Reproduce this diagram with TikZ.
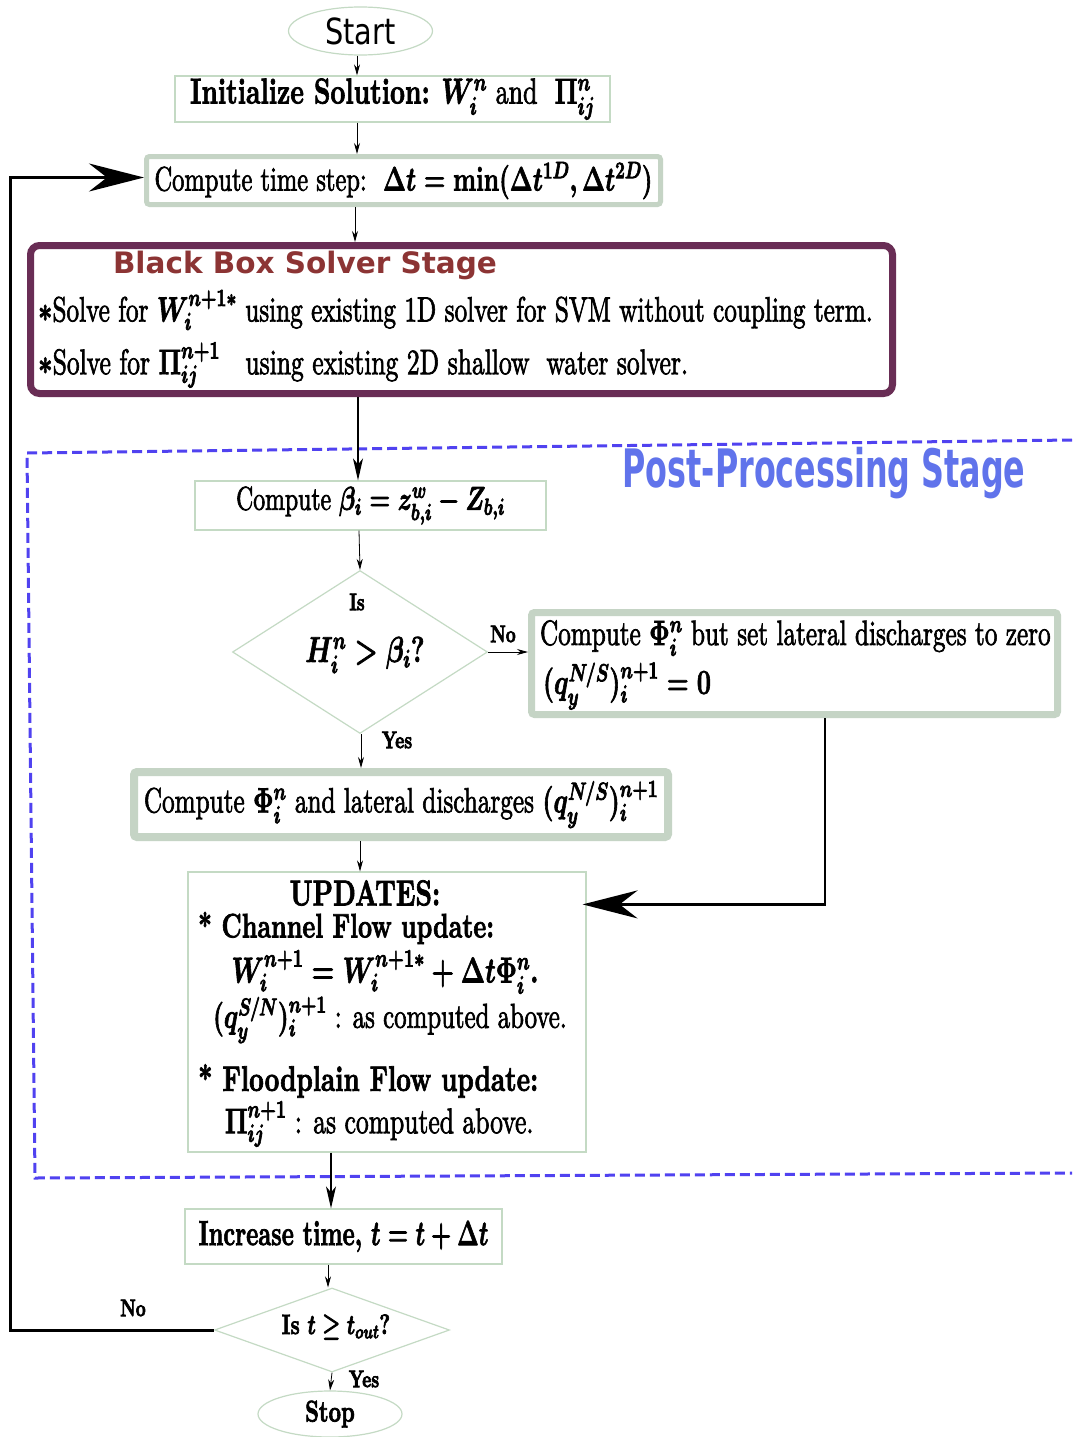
\RequirePackage{fix-cm}
\documentclass[tikz,border=0pt]{standalone}
\usepackage{amsmath}
\usepackage[no-math]{fontspec}
\usepackage{graphicx}
\usetikzlibrary{shapes.geometric,arrows.meta}
\setmainfont{lmroman10-regular.otf}[BoldFont=lmroman10-bold.otf, ItalicFont=lmroman10-italic.otf, BoldItalicFont=lmroman10-bolditalic.otf]
\newfontfamily\djs{DejaVu Sans}
\definecolor{gthin}{RGB}{196,218,196}
\definecolor{gthick}{RGB}{197,212,197}
\definecolor{bbpurple}{RGB}{105,45,85}
\definecolor{bbtitle}{RGB}{140,52,52}
\definecolor{ppblue}{RGB}{96,115,235}
\definecolor{dashblue}{RGB}{80,66,240}
\newcommand{\heavyon}{\special{pdf:literal direct 2 Tr 0.8 w}}
\newcommand{\heavyoff}{\special{pdf:literal direct 0 Tr}}
\newcommand{\cz}[1]{\heavyon\scalebox{0.72}[1]{#1}\heavyoff}
\newcommand{\fsz}[1]{\fontsize{#1}{#1}\selectfont\boldmath}
\begin{document}
\begin{tikzpicture}[x=1pt,y=-1pt,
  txt/.style={inner sep=0pt, outer sep=0pt},
  thinbox/.style={draw=gthin, line width=1.2pt, inner sep=0pt},
  thickbox/.style={draw=gthick, rounded corners=3pt, inner sep=0pt},
  oval/.style={ellipse, draw=gthin, line width=1.2pt, inner sep=0pt},
  dia/.style={diamond, draw=gthin, line width=1.2pt, inner sep=0pt},
  ar/.style={-{Stealth[length=11pt,width=6pt]}, line width=0.8pt},
  armed/.style={-{Stealth[length=22pt,width=10pt,inset=6pt]}, line width=1.4pt},
  big/.style={-{Stealth[length=55pt,width=28pt,inset=18pt]}}
]
\fill[white] (0,0) rectangle (1072,1437);
\useasboundingbox (0,0) rectangle (1072,1437);

% dashed post-processing frame
\draw[dashblue, line width=3pt, dash pattern=on 10pt off 5pt] (1072,440) -- (27,453) -- (35,1178) -- (1072,1173);

% nodes
\node[oval, minimum width=144pt, minimum height=48pt, font=\djs\fontsize{36}{36}\selectfont] (start) at (360.5,31) {\scalebox{0.8}[1]{Start}};

\node[thinbox, minimum width=435pt, minimum height=46pt, font=\fsz{36}] (init) at (392.5,99)
  {\cz{\textbf{Initialize Solution:} $W_i^n$ and\ \ $\Pi_{ij}^n$}};

\node[thickbox, line width=5pt, minimum width=514pt, minimum height=48pt, font=\fsz{34}] (ts) at (403.5,180.5)
  {\cz{Compute time step:\ \ $\Delta t=\min(\Delta t^{1D},\Delta t^{2D})$}};

\node[draw=bbpurple, line width=7pt, rounded corners=9pt, minimum width=862pt, minimum height=148pt, inner sep=0pt] (bb) at (461.5,319.5) {};
\node[txt, anchor=west, font=\djs\bfseries\fontsize{29.5}{30}\selectfont, text=bbtitle] (bbt) at (113,265) {Black Box Solver Stage};
\node[txt, anchor=west, font=\fsz{35}] (bb1) at (38,310)
  {\cz{$\ast$Solve for $W_i^{n+1*}$ using existing 1D solver\ for SVM without coupling term.}};
\node[txt, anchor=west, font=\fsz{35.5}] (bb2) at (38,365)
  {\cz{$\ast$Solve for $\Pi_{ij}^{n+1}$\ \ \ using existing 2D shallow\ \ water solver.}};

\node[txt, font=\djs\bfseries\fontsize{53}{53}\selectfont, text=ppblue] (ppt) at (824,473) {\scalebox{0.6}[1]{Post-Processing Stage}};

\node[thinbox, minimum width=351pt, minimum height=49pt, font=\fsz{33}] (beta) at (370.5,505.5)
  {\cz{Compute $\beta_i = z^w_{b,i} - Z_{b,i}$}};

\node[dia, minimum width=255pt, minimum height=163pt] (d1) at (360,652) {};
\node[txt, font=\bfseries\fontsize{24}{24}\selectfont] (d1a) at (357,602) {\cz{Is}};
\node[txt, font=\fsz{36}] (d1b) at (365,655) {\cz{$H_i^n > \beta_i ?$}};

\node[thickbox, line width=7pt, minimum width=526pt, minimum height=102pt] (nobox) at (794.5,663.5) {};
\node[txt, anchor=west, font=\fsz{35}] (nb1) at (540,638) {\cz{Compute $\Phi_i^n$ but set lateral discharges to zero}};
\node[txt, anchor=west, font=\fsz{35}] (nb2) at (543,686) {\cz{$(q_y^{N/S})_i^{n+1}=0$}};

\node[thickbox, line width=8pt, minimum width=534pt, minimum height=65pt, font=\fsz{35}] (phi) at (401,804.5)
  {\cz{Compute $\Phi_i^n$ and lateral discharges $(q_y^{N/S})_i^{n+1}$}};

\node[thinbox, minimum width=398pt, minimum height=280pt] (upd) at (387,1012) {};
\node[txt, font=\fsz{36}\bfseries] (u1) at (365,893) {\cz{UPDATES:}};
\node[txt, anchor=west, font=\fsz{34}\bfseries] (u2) at (198,928) {\cz{* Channel Flow update:}};
\node[txt, font=\fsz{36}] (u3) at (385,972) {\cz{$W_i^{n+1} = W_i^{n+1*} + \Delta t\Phi_i^n.$}};
\node[txt, anchor=west, font=\fsz{34.5}] (u4) at (213,1020) {\cz{$(q_y^{S/N})_i^{n+1}$ : as computed above.}};
\node[txt, anchor=west, font=\fsz{35.5}\bfseries] (u5) at (198,1081) {\cz{* Floodplain Flow update:}};
\node[txt, anchor=west, font=\fsz{35.5}] (u6) at (225,1124) {\cz{$\Pi_{ij}^{n+1}$\ : as computed above.}};

\node[thinbox, minimum width=317pt, minimum height=55pt, font=\fsz{35}\bfseries] (inc) at (343.5,1236.5)
  {\heavyon\scalebox{0.66}[1]{Increase time, $t=t+\Delta t$}\heavyoff};

\node[dia, minimum width=235pt, minimum height=84pt] (d2) at (332,1330) {};
\node[txt, font=\fsz{28}\bfseries] (d2t) at (336,1327) {\cz{Is $t\geq t_{out}$?}};

\node[oval, minimum width=144pt, minimum height=46pt, font=\bfseries\fontsize{30}{30}\selectfont] (stop) at (330,1414) {\cz{Stop}};

% labels
\node[txt, font=\bfseries\fontsize{24}{24}\selectfont] (lno1) at (503,634) {\cz{No}};
\node[txt, font=\bfseries\fontsize{24}{24}\selectfont] (lyes1) at (397,740) {\cz{Yes}};
\node[txt, font=\bfseries\fontsize{24}{24}\selectfont] (lno2) at (133,1308) {\cz{No}};
\node[txt, font=\bfseries\fontsize{24}{24}\selectfont] (lyes2) at (364,1379) {\cz{Yes}};

% columns
\coordinate (c1) at (357,0);
\coordinate (c2) at (355,0);
\coordinate (c3) at (358,0);
\coordinate (c4) at (359,0);
\coordinate (c5) at (361,0);
\coordinate (c6) at (360,0);
\coordinate (c7) at (331,0);
\coordinate (c8) at (328,0);
\coordinate (lx) at (10,0);
\coordinate (rx) at (825,0);

% connectors
\draw[ar] (start.south -| c1) -- (init.north -| c1);
\draw[ar] (init.south -| c1) -- (ts.north -| c1);
\draw[ar] (ts.south -| c2) -- (bb.north -| c2);
\draw[armed] (bb.south -| c3) -- (beta.north -| c3);
\draw[ar] (beta.south -| c4) -- (d1.north);
\draw[ar] (d1.east) -- (d1.east -| nobox.west);
\draw[ar] (d1.south -| c5) -- (phi.north -| c5);
\draw[ar] (phi.south -| c6) -- (upd.north -| c6);
\draw[big, line width=2.5pt, shorten >=-4pt] (nobox.south -| rx) |- ([yshift=-33pt]upd.north east);
\draw[armed] (upd.south -| c7) -- (inc.north -| c7);
\draw[ar] (inc.south -| c8) -- (d2.north -| c8);
\draw[ar] (d2.south) -- (stop.north);
\draw[big, line width=3pt] (d2.west) -- (d2.west -| lx) |- ([yshift=3pt]ts.west);
\end{tikzpicture}
\end{document}
